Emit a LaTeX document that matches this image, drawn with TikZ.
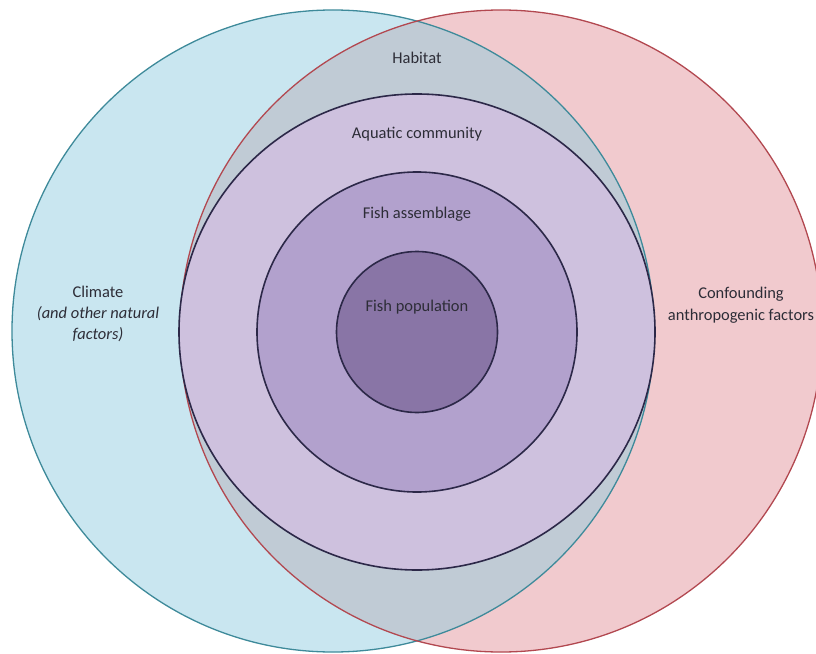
\documentclass[tikz,border=0pt]{standalone}
\usepackage{fontspec}
\setmainfont{Carlito}
\usetikzlibrary{positioning}
\definecolor{climfill}{RGB}{201,230,240}
\definecolor{climline}{RGB}{62,138,154}
\definecolor{confill}{RGB}{241,202,206}
\definecolor{conline}{RGB}{178,72,80}
\definecolor{habfill}{RGB}{192,203,213}
\definecolor{commfill}{RGB}{206,193,222}
\definecolor{assemfill}{RGB}{178,161,205}
\definecolor{popfill}{RGB}{137,117,166}
\definecolor{ringline}{RGB}{44,40,72}
\definecolor{txtcol}{RGB}{45,45,55}
\tikzset{
factor/.style = {circle, draw, line width = 1.3bp, inner sep = 0pt, minimum size = 642bp},
ring/.style = {circle, draw = ringline, line width = 1.6bp, inner sep = 0pt},
txt/.style = {text = txtcol, inner sep = 1pt, align = center,
   font = \fontsize{16.5}{21.5}\selectfont}
}
\begin{document}
\begin{tikzpicture}[x = 1bp, y = -1bp]
\useasboundingbox (0,0) rectangle (816,654);

%% Climate and confounding factors
\node [factor, fill = climfill, draw = none] (clim) at (333,331) {};
\node [factor, fill = confill, draw = none] (conf) at (501,331) {};

%% Habitat (overlap)
\begin{scope}
\clip (clim.center) circle (321bp);
\fill [habfill] (conf.center) circle (321bp);
\end{scope}
\node [factor, draw = climline] at (clim) {};
\node [factor, draw = conline] at (conf) {};

%% Nested rings
\node [ring, fill = commfill, minimum size = 476bp] (comm) at (417,332) {};
\node [ring, fill = assemfill, minimum size = 320bp] (assem) at (comm) {};
\node [ring, fill = popfill, minimum size = 161bp] (pop) at (comm) {};

%% Labels
\node [txt] (habtxt) at (417,58) {Habitat};
\node [txt] (commtxt) at (417,134) {Aquatic community};
\node [txt] (assemtxt) at (417,214) {Fish assemblage};
\node [txt] (poptxt) at (417,307) {Fish population};
\node [txt] (climtxt) at (98,314) {Climate\\\itshape (and other natural\\\itshape factors)};
\node [txt] (conftxt) at (741,305) {Confounding\\anthropogenic factors};

\end{tikzpicture}
\end{document}
